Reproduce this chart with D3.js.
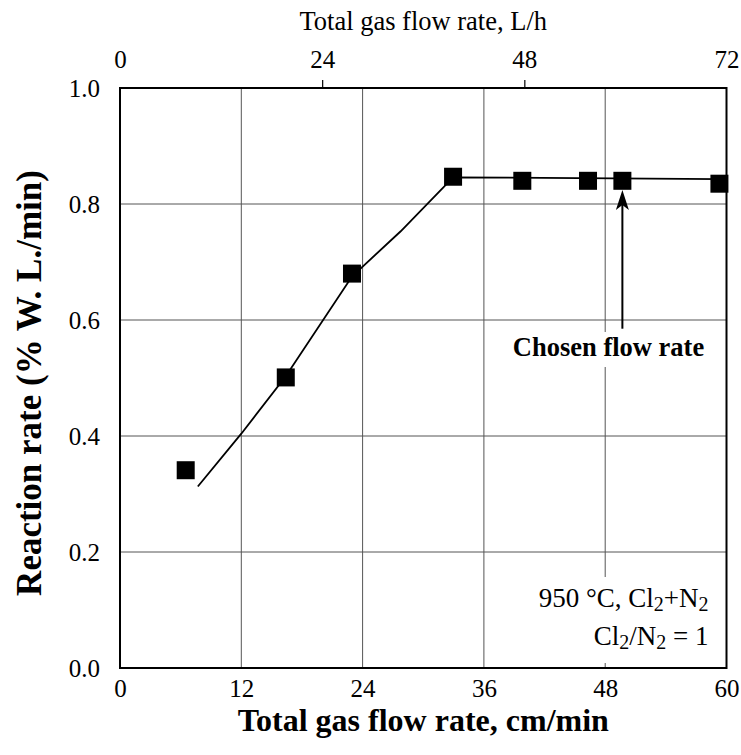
<!DOCTYPE html>
<html>
<head>
<meta charset="utf-8">
<script src="https://cdn.jsdelivr.net/npm/d3@7"></script>
<style>
  html, body { margin: 0; padding: 0; background: #fff; }
  svg { display: block; }
</style>
</head>
<body>
<svg id="chart" width="741" height="755"></svg>
<script>
// Measured reaction rate against total gas flow rate (950 °C, Cl2+N2, Cl2/N2 = 1)
const flowCm = [6.5, 16.4, 22.95, 32.95, 39.8, 46.3, 49.7, 59.3];
const rate   = [0.341, 0.501, 0.680, 0.847, 0.840, 0.840, 0.840, 0.835];

// Trend line drawn through the measurements
const trendFlow = [7.7, 12, 16.4, 22.95, 27.77, 32.95, 59.3];
const trendRate = [0.313, 0.404, 0.503, 0.675, 0.753, 0.846, 0.843];

// Selected operating point (arrow annotation)
const chosenFlow = 49.7;
const arrowFrom = 0.585;
const arrowTo = 0.824;

// Axis ticks
const bottomTicks = [0, 12, 24, 36, 48, 60];
const topTicks = [0, 24, 48, 72];
const leftTicks = [0.0, 0.2, 0.4, 0.6, 0.8, 1.0];

const FONT = '"Liberation Serif", "Times New Roman", Times, serif';

const svg = d3.select("#chart").attr("font-family", FONT);
const L = 120, R = 726.5, T = 88, B = 668;

const x = d3.scaleLinear().domain([0, 60]).range([L, R]);
const xTop = d3.scaleLinear().domain([0, 72]).range([L, R]);
const y = d3.scaleLinear().domain([0, 1]).range([B, T]);

// grid
const grid = svg.append("g").attr("stroke", "#555").attr("stroke-width", 1);
grid.selectAll("line.v").data(bottomTicks.slice(1, -1)).join("line")
  .attr("x1", d => x(d)).attr("x2", d => x(d)).attr("y1", T).attr("y2", B);
grid.selectAll("line.h").data(leftTicks.slice(1, -1)).join("line")
  .attr("x1", L).attr("x2", R).attr("y1", d => y(d)).attr("y2", d => y(d));

// white label backgrounds
svg.append("rect").attr("x", 503).attr("y", 332).attr("width", 212).attr("height", 35).attr("fill", "#fff");
svg.append("rect").attr("x", 528).attr("y", 577).attr("width", 190).attr("height", 86).attr("fill", "#fff");

function styleAxis(g) {
  g.attr("font-family", FONT).attr("font-size", 25);
  g.select(".domain").remove();
  g.selectAll("text").attr("fill", "#000").style("font-family", FONT).style("font-size", "25px");
}

// bottom axis
const gB = svg.append("g").attr("transform", `translate(0,${B})`)
  .call(d3.axisBottom(x).tickValues(bottomTicks).tickSize(0).tickFormat(d3.format("d")));
styleAxis(gB);
gB.selectAll("text").attr("y", 29).attr("dy", null);

// top axis
const gT = svg.append("g").attr("transform", `translate(0,${T})`)
  .call(d3.axisTop(xTop).tickValues(topTicks).tickSize(8).tickFormat(d3.format("d")));
styleAxis(gT);
gT.selectAll(".tick line").attr("stroke", "#000").attr("stroke-width", 1.2)
  .filter(d => d === 0 || d === 72).remove();
gT.selectAll("text").attr("y", -20).attr("dy", null);

// left axis
const gL = svg.append("g").attr("transform", `translate(${L},0)`)
  .call(d3.axisLeft(y).tickValues(leftTicks).tickSize(0).tickFormat(d3.format(".1f")));
styleAxis(gL);
gL.selectAll("text").attr("x", -20).attr("dy", "0.32em");

// frame
svg.append("rect").attr("x", L).attr("y", T).attr("width", R - L).attr("height", B - T)
  .attr("fill", "none").attr("stroke", "#000").attr("stroke-width", 2);

// axis titles
svg.append("text").attr("x", (L + R) / 2).attr("y", 30).attr("text-anchor", "middle")
  .style("font-family", FONT).style("font-size", "26.5px").text("Total gas flow rate, L/h");
svg.append("text").attr("x", (L + R) / 2).attr("y", 731).attr("text-anchor", "middle")
  .style("font-family", FONT).style("font-size", "32px").style("font-weight", "bold")
  .text("Total gas flow rate, cm/min");
svg.append("text").attr("transform", `translate(41,${(T + B) / 2 + 5}) rotate(-90)`)
  .attr("text-anchor", "middle").style("font-family", FONT)
  .style("font-size", "35px").style("font-weight", "bold")
  .text("Reaction rate (% W. L./min)");

// trend line
const trend = trendFlow.map((f, i) => [f, trendRate[i]]);
svg.append("path").datum(trend)
  .attr("d", d3.line().x(d => x(d[0])).y(d => y(d[1])))
  .attr("fill", "none").attr("stroke", "#000").attr("stroke-width", 1.8);

// markers
const S = 18;
svg.selectAll("rect.pt").data(flowCm.map((f, i) => [f, rate[i]])).join("rect")
  .attr("class", "pt")
  .attr("x", d => x(d[0]) - S / 2).attr("y", d => y(d[1]) - S / 2)
  .attr("width", S).attr("height", S).attr("fill", "#000");

// arrow to the chosen flow rate
const ax = x(chosenFlow), ay0 = y(arrowFrom), ay1 = y(arrowTo);
svg.append("line").attr("x1", ax).attr("x2", ax).attr("y1", ay0).attr("y2", ay1 + 12)
  .attr("stroke", "#000").attr("stroke-width", 2);
svg.append("path")
  .attr("d", `M${ax},${ay1} L${ax - 6.5},${ay1 + 20} L${ax},${ay1 + 15} L${ax + 6.5},${ay1 + 20} Z`)
  .attr("fill", "#000");
svg.append("text").attr("x", 608.5).attr("y", 356).attr("text-anchor", "middle")
  .style("font-family", FONT).style("font-size", "26.5px").style("font-weight", "bold")
  .text("Chosen flow rate");

// conditions
function cond(yPos) {
  return svg.append("text").attr("x", 708.5).attr("y", yPos).attr("text-anchor", "end")
    .style("font-family", FONT).style("font-size", "27px");
}
const cond1 = cond(607);
cond1.append("tspan").text("950 °C, Cl");
cond1.append("tspan").attr("dy", 4).style("font-size", "20px").text("2");
cond1.append("tspan").attr("dy", -4).text("+N");
cond1.append("tspan").attr("dy", 4).style("font-size", "20px").text("2");

const cond2 = cond(645);
cond2.append("tspan").text("Cl");
cond2.append("tspan").attr("dy", 4).style("font-size", "20px").text("2");
cond2.append("tspan").attr("dy", -4).text("/N");
cond2.append("tspan").attr("dy", 4).style("font-size", "20px").text("2");
cond2.append("tspan").attr("dy", -4).text(" = 1");
</script>
</body>
</html>
